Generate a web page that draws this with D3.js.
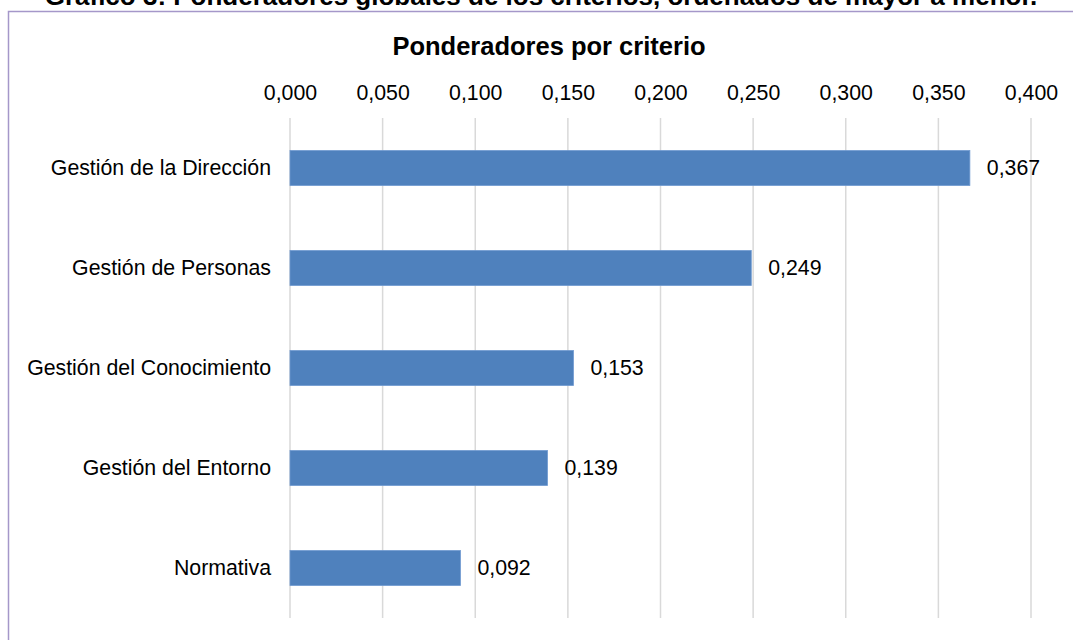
<!DOCTYPE html>
<html><head><meta charset="utf-8">
<script src="https://cdn.jsdelivr.net/npm/d3@7"></script>
<style>
html,body{margin:0;padding:0;background:#fff;overflow:hidden}
svg{display:block;font-family:"Liberation Sans",Arial,sans-serif}
</style></head>
<body>
<svg id="c" width="1073" height="640"></svg>
<script>
const categories = ["Gestión de la Dirección","Gestión de Personas","Gestión del Conocimiento","Gestión del Entorno","Normativa"];
const values = [0.367, 0.249, 0.153, 0.139, 0.092];
const tickValues = [0,0.05,0.1,0.15,0.2,0.25,0.3,0.35,0.4];
const docTitle = "Gráfico 3: Ponderadores globales de los criterios, ordenados de mayor a menor.";
const chartTitle = "Ponderadores por criterio";

const svg = d3.select("#c");
const fmt = v => d3.format(".3f")(v).replace(".", ",");
const FS = 21.3;

// document title (cut off at top, as in the source)
svg.append("text").attr("x",541).attr("y",5).attr("text-anchor","middle")
  .attr("font-weight","bold").attr("font-size",26).attr("fill","#000").text(docTitle);

// frame
svg.append("path").attr("d","M8.5,700 V11.5 H1100").attr("fill","none")
  .attr("stroke","#A597C9").attr("stroke-width",1.5);

const x = d3.scaleLinear().domain([0,0.4]).range([290,1031]);
const y = d3.scaleBand().domain(categories).range([118,618]).paddingInner(0.65).paddingOuter(0.325);

// gridlines
svg.append("g").selectAll("line").data(tickValues).join("line")
  .attr("x1",d=>x(d)).attr("x2",d=>x(d)).attr("y1",118).attr("y2",618)
  .attr("stroke","#D9D9D9").attr("stroke-width",1.5);

// top axis
const ax = svg.append("g").attr("transform","translate(0,100)")
  .call(d3.axisTop(x).tickValues(tickValues).tickFormat(fmt).tickSize(0).tickPadding(0));
ax.select(".domain").remove();
ax.selectAll("text").attr("font-size",FS).attr("fill","#000").attr("font-family","Liberation Sans, Arial, sans-serif");

// chart title
svg.append("text").attr("x",549).attr("y",55).attr("text-anchor","middle")
  .attr("font-weight","bold").attr("font-size",25.5).attr("fill","#000").text(chartTitle);

// bars
const data = categories.map((c,i)=>({c, v: values[i]}));
svg.append("g").selectAll("rect").data(data).join("rect")
  .attr("x",x(0)).attr("y",d=>y(d.c)).attr("width",d=>x(d.v)-x(0)).attr("height",y.bandwidth())
  .attr("fill","#4F81BD").attr("stroke","#6F9AD0").attr("stroke-width",0.8);

// category labels
const yl = svg.append("g").attr("transform","translate(290,0)")
  .call(d3.axisLeft(y).tickSize(0).tickPadding(19));
yl.select(".domain").remove();
yl.selectAll("text").attr("font-size",FS).attr("fill","#000").attr("font-family","Liberation Sans, Arial, sans-serif");

// value labels
svg.append("g").selectAll("text").data(data).join("text")
  .attr("x",d=>x(d.v)+17).attr("y",d=>y(d.c)+y.bandwidth()/2).attr("dy","0.35em")
  .attr("font-size",FS).attr("fill","#000").text(d=>fmt(d.v));
</script>
</body></html>
